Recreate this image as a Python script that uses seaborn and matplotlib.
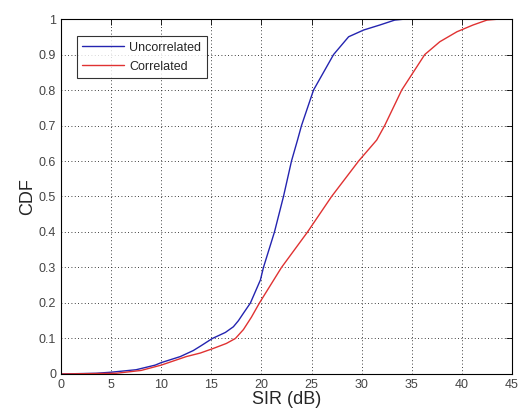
import matplotlib
matplotlib.use("Agg")
import matplotlib.pyplot as plt
import seaborn as sns
import pandas as pd
import numpy as np

# Data (SIR in dB vs CDF)
uncorr_x = [0, 3.5, 5, 7.5, 9.4, 10, 11.9, 13.2, 14.0, 15.1, 16.4, 17.2, 17.7, 18.2, 18.9,
            19.9, 20.2, 21.3, 22.2, 23.0, 23.6, 24.0, 25.2, 27.2, 28.7, 30.2, 31.8, 33.3, 34.4]
uncorr_y = [0, 0.002, 0.005, 0.012, 0.025, 0.032, 0.049, 0.066, 0.08, 0.1, 0.117, 0.133, 0.15,
            0.171, 0.2, 0.265, 0.3, 0.4, 0.5, 0.6, 0.659, 0.7, 0.8, 0.9, 0.95, 0.969, 0.983, 0.997, 1.0]

corr_x = [0, 5.5, 8, 10.0, 12.5, 13.9, 15.2, 16.5, 17.4, 18.2, 19.0, 19.8, 20.9, 22.0, 24.6, 27.0,
          29.7, 31.5, 32.3, 34.0, 36.3, 37.8, 39.5, 41.1, 42.5, 43.8]
corr_y = [0, 0.002, 0.01, 0.025, 0.049, 0.059, 0.072, 0.086, 0.1, 0.125, 0.16, 0.2, 0.25, 0.3, 0.4, 0.5,
          0.6, 0.659, 0.7, 0.8, 0.9, 0.936, 0.964, 0.983, 0.997, 1.0]

series_names = ["Uncorrelated", "Correlated"]

df = pd.concat([
    pd.DataFrame({"SIR": uncorr_x, "CDF": uncorr_y, "series": series_names[0]}),
    pd.DataFrame({"SIR": corr_x, "CDF": corr_y, "series": series_names[1]}),
], ignore_index=True)

sns.set_style("white")
plt.rcParams['font.family'] = ['Liberation Sans', 'DejaVu Sans']

fig = plt.figure(figsize=(5.19, 4.16), dpi=100)
ax = fig.add_axes([0.1175, 0.101, 0.869, 0.8533])

sns.lineplot(data=df, x="SIR", y="CDF", hue="series", hue_order=series_names,
             palette={"Uncorrelated": "#2424b0", "Correlated": "#e03232"},
             linewidth=1.0, ax=ax, sort=False, estimator=None)

ax.set_xlim(0, 45)
ax.set_ylim(0, 1)
ax.set_xticks(np.arange(0, 46, 5))
ax.set_yticks(np.round(np.arange(0, 1.01, 0.1), 1))
ax.set_xticklabels([str(v) for v in range(0, 46, 5)])
ax.set_yticklabels(["0"] + [f"{v:.1f}" for v in np.arange(0.1, 0.95, 0.1)] + ["1"])
ax.grid(True, color="black", linestyle=(0, (1, 3)), linewidth=0.6)
ax.tick_params(direction="in", length=4, width=0.6, top=True, right=True,
               labelsize=9, labelcolor="#444444", color="black")
for s in ax.spines.values():
    s.set_visible(True)
    s.set_color("black")
    s.set_linewidth(0.8)

ax.set_xlabel("SIR (dB)", fontsize=13, labelpad=0)
ax.set_ylabel("CDF", fontsize=13, labelpad=2)

leg = ax.legend(loc="upper left", bbox_to_anchor=(0.035, 0.952), fontsize=9,
                frameon=True, fancybox=False, edgecolor="black", handlelength=3.3,
                handletextpad=0.45, borderpad=0.45, labelspacing=0.55, borderaxespad=0)
leg.get_frame().set_linewidth(0.8)

fig.savefig("out.png", dpi=100)
